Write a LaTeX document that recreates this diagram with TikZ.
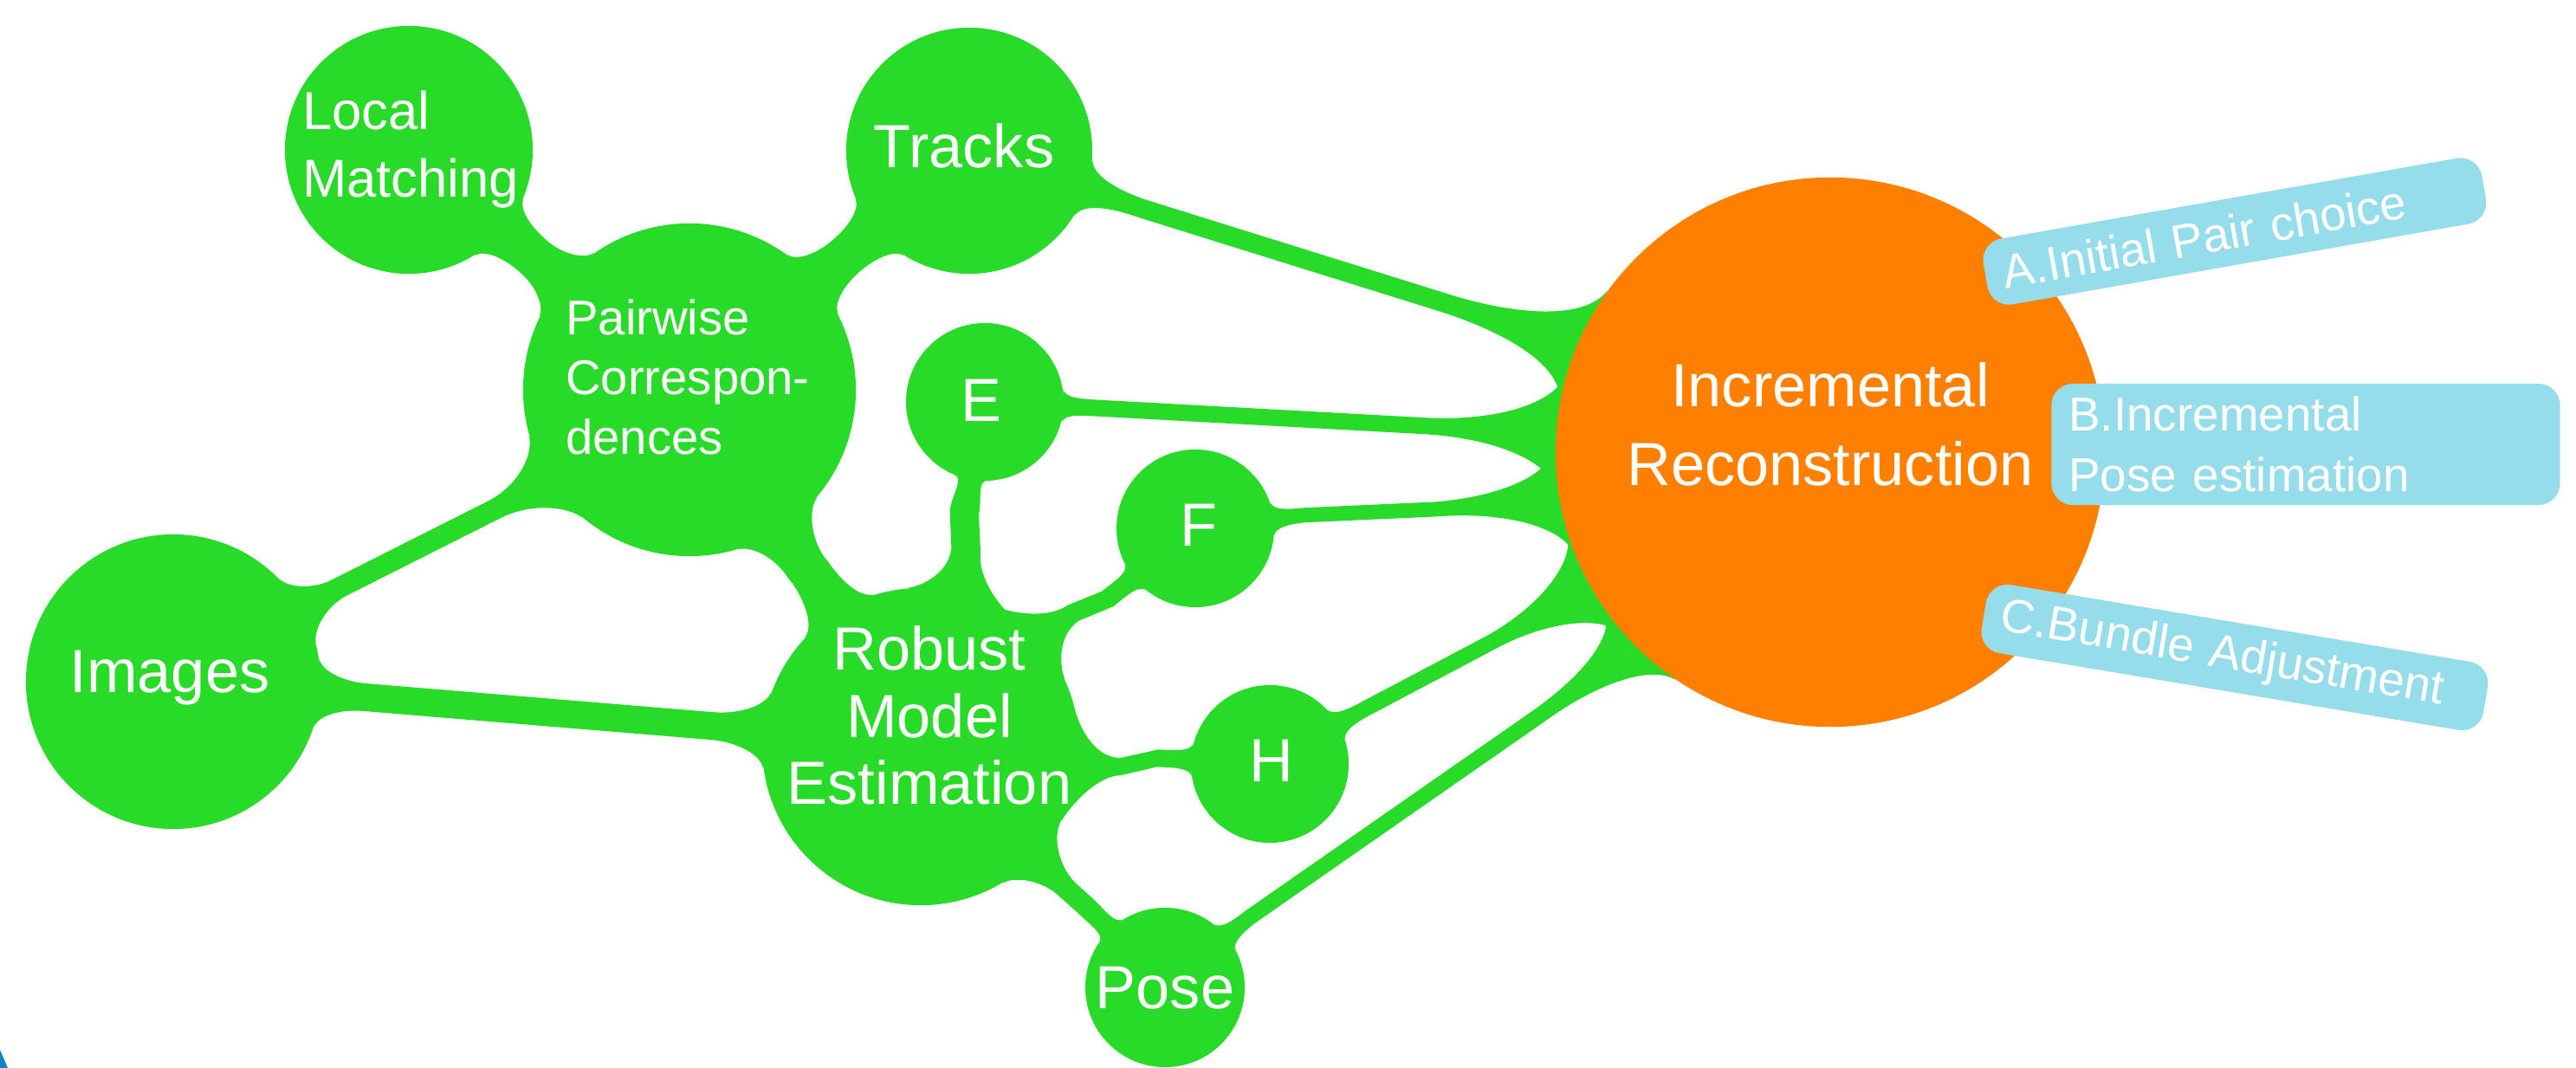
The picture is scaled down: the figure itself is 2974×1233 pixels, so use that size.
\documentclass[tikz,border=0pt]{standalone}
\usepackage{fontspec}
\setmainfont{Liberation Sans}
\usetikzlibrary{calc,backgrounds}

\definecolor{blobgreen}{RGB}{40,219,40}
\definecolor{recorange}{RGB}{255,128,0}
\definecolor{steplblue}{RGB}{150,221,235}
\definecolor{edgeblue}{RGB}{20,130,200}

\tikzset{
  bubble/.style={circle, fill=blobgreen, inner sep=0pt},
  word/.style={text=white, inner sep=0pt, align=center, font=\fontsize{20}{22}\selectfont},
  bandfill/.style={fill=blobgreen},
  stepbox/.style={rectangle, rounded corners=0.25cm, fill=steplblue, text=white,
    inner xsep=0.2cm, inner ysep=0pt, align=left, font=\fontsize{15.6}{20}\selectfont}
}

% green band from bubble #1 (anchors #2,#3) to bubble #4 (anchors #5,#6),
% flare lengths #7 and #8, half width #9
\newcommand{\band}[9]{%
  \fill[bandfill]
    (#1.#2)
      .. controls ($(#1.#2)!.5*#7!90:(#1)$)
         and ($(#1.#2)!.5!(#1.#3)!#7!(#4)!#9!90:(#4)$)
      .. ($(#1.#2)!.5!(#1.#3)!2*#7!(#4)!#9!90:(#4)$)
    -- ($(#4.#5)!.5!(#4.#6)!2*#8!(#1)!#9!-90:(#1)$)
      .. controls ($(#4.#5)!.5!(#4.#6)!#8!(#1)!#9!-90:(#1)$)
         and ($(#4.#5)!.5*#8!-90:(#4)$)
      .. (#4.#5)
    -- (#4.#6)
      .. controls ($(#4.#6)!.5*#8!90:(#4)$)
         and ($(#4.#5)!.5!(#4.#6)!#8!(#1)!#9!90:(#1)$)
      .. ($(#4.#5)!.5!(#4.#6)!2*#8!(#1)!#9!90:(#1)$)
    -- ($(#1.#2)!.5!(#1.#3)!2*#7!(#4)!#9!-90:(#4)$)
      .. controls ($(#1.#2)!.5!(#1.#3)!#7!(#4)!#9!-90:(#4)$)
         and ($(#1.#3)!.5*#7!-90:(#1)$)
      .. (#1.#3)
    -- cycle;}

\begin{document}
\begin{tikzpicture}[x=0.01cm, y=-0.01cm]
  \useasboundingbox (0,0) rectangle (2974,1233);

  % Define the bubbles
  \node[bubble, minimum size=2.86cm] (lm) at (472,173) {};
  \node[bubble, minimum size=2.84cm] (tr) at (1119,174) {};
  \node[bubble, minimum size=3.84cm] (pc) at (796,450) {};
  \node[bubble, minimum size=3.40cm] (img) at (200,787) {};
  \node[bubble, minimum size=3.66cm] (rme) at (1063,862) {};
  \node[bubble, minimum size=1.82cm] (e) at (1137,464) {};
  \node[bubble, minimum size=1.82cm] (f) at (1380,610) {};
  \node[bubble, minimum size=1.82cm] (h) at (1466,882) {};
  \node[bubble, minimum size=1.84cm] (pose) at (1345,1140) {};
  \node[bubble, minimum size=6.34cm, fill=recorange] (ir) at (2113,522) {};

  % Words in the bubbles
  \node[word, align=left, font=\fontsize{17.5}{22.2}\selectfont] (lmtext) at (474,173) {Local\\Matching};
  \node[word] (trtext) at (1113,168) {Tracks};
  \node[word, align=left, font=\fontsize{16}{19.6}\selectfont] (pctext) at (794,435) {Pairwise\\Correspon-\\dences};
  \node[word] (imgtext) at (196,783) {Images};
  \node[word] (rmetext) at (1073,826) {Robust\\Model\\Estimation};
  \node[word] (etext) at (1133,462) {E};
  \node[word] (ftext) at (1384,606) {F};
  \node[word] (htext) at (1468,878) {H};
  \node[word] (posetext) at (1345,1141) {Pose};
  \node[word, font=\fontsize{20}{26}\selectfont] (irtext) at (2113,490) {Incremental\\Reconstruction};

  % Draw the bands behind the bubbles
  \begin{scope}[on background layer]
    \band{img}{44}{15}{pc}{196}{230}{.28cm}{.4cm}{.12cm}
    \band{img}{9}{-18}{rme}{160}{188}{.28cm}{.32cm}{.16cm}
    \band{lm}{-23}{-58}{pc}{125}{154}{.25cm}{.25cm}{.24cm}
    \band{tr}{238}{203}{pc}{27}{54}{.25cm}{.25cm}{.24cm}
    \band{pc}{-40}{-73}{rme}{107}{137}{.3cm}{.3cm}{.24cm}
    \band{e}{271}{248}{rme}{55}{95}{.2cm}{.3cm}{.17cm}
    \band{f}{231}{207}{rme}{25}{62}{.2cm}{.3cm}{.11cm}
    \band{h}{189}{165}{rme}{-28}{12}{.2cm}{.3cm}{.1cm}
    \band{pose}{145}{122}{rme}{-59}{-29}{.2cm}{.3cm}{.12cm}
    \band{tr}{-4}{-32}{ir}{144}{170}{.35cm}{.85cm}{.11cm}
    \band{e}{9}{-15}{ir}{163}{189}{.18cm}{.8cm}{.095cm}
    \band{f}{19}{-5}{ir}{178}{202}{.18cm}{.75cm}{.085cm}
    \band{h}{43}{18}{ir}{197}{222}{.18cm}{.7cm}{.09cm}
    \band{pose}{52}{28}{ir}{214}{236}{.18cm}{.7cm}{.09cm}
  \end{scope}

  % Steps of the reconstruction
  \node[stepbox, rotate=10, minimum width=5.84cm, minimum height=0.77cm, text width=5.44cm] (stepa) at (2580,267) {A.Initial Pair choice};
  \node[stepbox, minimum width=5.87cm, minimum height=1.40cm, text width=5.47cm] (stepb) at (2662,513) {B.Incremental\\Pose estimation};
  \node[stepbox, rotate=-9.5, minimum width=5.87cm, minimum height=0.80cm, text width=5.47cm] (stepc) at (2580,759) {C.Bundle Adjustment};

  % corner of the frame
  \fill[edgeblue] (0,1212) -- (9,1233) -- (0,1233) -- cycle;
\end{tikzpicture}
\end{document}
